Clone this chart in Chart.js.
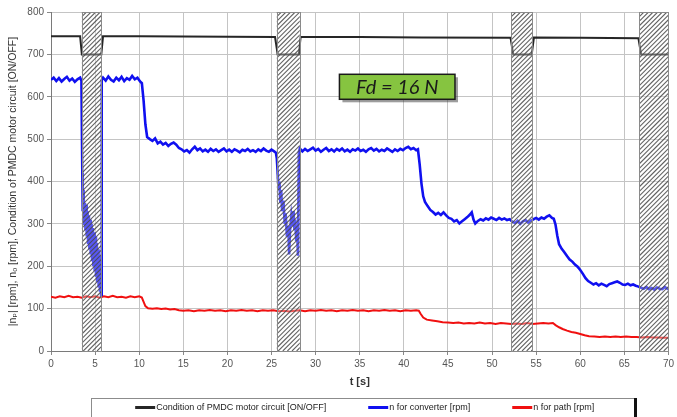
<!DOCTYPE html>
<html><head><meta charset="utf-8">
<script src="https://cdn.jsdelivr.net/npm/chart.js@4.4.1/dist/chart.umd.min.js"></script>
<style>html,body{margin:0;padding:0;background:#fff;}#wrap{width:677px;height:417px;position:relative;}</style>
</head><body><div id="wrap"><canvas id="c" width="677" height="417"></canvas></div>
<script>
// ---- data ----
const seriesLabels = ['Condition of PMDC motor circuit [ON/OFF]', 'n for converter [rpm]', 'n for path [rpm]'];
const condT = [0,3.3,3.5,5.7,5.9,10,15,25.4,25.7,28.1,28.3,35,42,52.1,52.4,54.5,54.75,60,66.6,66.9,70];
const condV = [743,743,700,700,743,743,742,741,700,700,741,741,740,739,700,700,740,739,738,700,700];
const convT = [0,0.3,0.6,0.9,1.2,1.5,1.8,2.1,2.4,2.7,3.0,3.3,3.45,3.55,3.6,3.7,3.75,3.85,3.9,4.0,4.05,4.15,4.2,4.3,4.35,4.45,4.5,4.6,4.65,4.75,4.8,4.9,4.95,5.05,5.1,5.2,5.25,5.35,5.4,5.5,5.55,5.62,5.68,5.75,5.9,6.2,6.5,6.8,7.1,7.4,7.7,8.0,8.3,8.6,8.9,9.2,9.5,9.8,10.1,10.3,10.5,10.7,10.9,11.2,11.5,11.8,12.1,12.4,12.7,13.0,13.3,13.6,13.9,14.2,14.5,14.8,15.1,15.4,15.7,16.0,16.3,16.6,16.9,17.2,17.5,17.8,18.1,18.4,18.7,19.0,19.3,19.6,19.9,20.2,20.5,20.8,21.1,21.4,21.7,22.0,22.3,22.6,22.9,23.2,23.5,23.8,24.1,24.4,24.7,25.0,25.3,25.5,25.6,25.7,25.8,25.9,26.0,26.1,26.2,26.35,26.5,26.6,26.75,26.9,27.0,27.1,27.25,27.4,27.5,27.6,27.7,27.8,27.9,28.0,28.1,28.2,28.5,28.8,29.1,29.4,29.7,30.0,30.3,30.6,30.9,31.2,31.5,31.8,32.1,32.4,32.7,33.0,33.3,33.6,33.9,34.2,34.5,34.8,35.1,35.4,35.7,36.0,36.3,36.6,36.9,37.2,37.5,37.8,38.1,38.4,38.7,39.0,39.3,39.6,39.9,40.2,40.5,40.8,41.1,41.4,41.6,41.8,42.0,42.2,42.4,42.7,43.0,43.3,43.6,43.9,44.2,44.5,44.8,45.1,45.4,45.7,46.0,46.3,46.6,46.9,47.2,47.5,47.7,47.9,48.1,48.4,48.7,49.0,49.3,49.6,49.9,50.2,50.5,50.8,51.1,51.4,51.7,52.0,52.3,52.6,52.9,53.2,53.5,53.8,54.1,54.4,54.7,55.0,55.3,55.6,55.9,56.2,56.5,56.8,57.0,57.2,57.4,57.6,57.9,58.2,58.5,58.8,59.1,59.4,59.7,60.0,60.3,60.6,60.9,61.2,61.5,61.8,62.1,62.4,62.7,63.0,63.3,63.6,63.9,64.2,64.5,64.8,65.1,65.4,65.7,66.0,66.3,66.6,66.9,67.2,67.5,67.8,68.1,68.4,68.7,69.0,69.3,69.6,69.8,70.0];
const convV = [640,645,637,644,636,642,647,638,643,635,641,645,638,420,330,380,300,350,285,345,270,330,255,320,240,310,228,300,215,290,200,280,188,270,175,255,162,240,150,225,140,200,132,640,645,638,648,640,636,645,639,647,637,644,640,649,641,645,636,632,590,535,505,500,496,502,490,494,487,491,484,489,492,487,479,476,471,474,468,476,482,474,478,471,475,470,477,472,476,470,474,478,471,475,470,476,473,469,475,472,477,471,474,470,476,472,478,473,470,475,471,468,455,420,380,400,350,380,330,355,300,325,270,295,228,285,320,295,330,285,310,260,285,225,470,478,471,477,472,476,480,473,477,470,475,479,472,476,471,477,473,478,471,475,470,476,473,478,472,475,470,476,479,473,477,471,475,472,478,474,470,476,472,477,474,479,482,476,479,474,476,440,395,365,352,342,333,328,322,326,321,327,320,314,312,306,309,301,306,311,316,322,327,310,301,307,311,308,313,310,315,312,309,314,310,313,309,311,305,302,307,300,306,309,303,308,311,314,310,315,312,317,320,314,312,298,272,252,241,233,224,216,211,204,199,191,182,172,165,161,157,160,155,159,156,153,158,160,162,164,161,157,156,159,155,157,154,152,149,147,151,146,149,145,150,147,146,151,148,145];
const pathT = [0,0.5,1,1.5,2,2.5,3,3.5,4,4.5,5,5.5,6,6.5,7,7.5,8,8.5,9,9.5,10,10.3,10.5,10.7,11.0,11.5,12,12.5,13,13.5,14,14.5,15,15.6,16.2,16.8,17.4,18,18.6,19.2,19.8,20.4,21,21.6,22.2,22.8,23.4,24,24.6,25.2,25.8,26.4,27,27.6,28.2,28.8,29.4,30,30.6,31.2,31.8,32.4,33,33.6,34.2,34.8,35.4,36,36.6,37.2,37.8,38.4,39,39.6,40.2,40.8,41.4,41.7,41.9,42.2,42.6,43.2,43.8,44.4,45,45.6,46.2,46.8,47.4,48,48.6,49.2,49.8,50.4,51,51.6,52.2,52.8,53.4,54,54.6,55.2,55.8,56.4,56.9,57.2,57.6,58,58.5,59,59.5,60,60.5,61,61.6,62.2,62.8,63.4,64,64.6,65.2,65.8,66.4,67,67.6,68.2,68.8,69.4,70];
const pathV = [128,126,129,127,130,127,128,126,129,127,129,126,129,127,130,127,128,126,129,127,129,126,116,106,101,100,101,99,100,98,99,96,95,96,94,96,95,97,95,96,94,96,95,97,95,96,94,96,95,96,94,95,93,95,96,94,96,95,97,95,96,94,96,95,97,95,96,94,96,95,97,95,96,94,96,95,96,95,88,79,74,72,70,68,67,66,67,65,66,65,67,65,66,64,66,65,64,65,64,66,64,65,66,65,66,61,56,52,48,45,43,40,37,35,34,33,34,33,34,33,34,33,33,32,33,32,32,31,31];
const offIntervals = [[3.5,5.7],[25.6,28.2],[52.2,54.6],[66.7,70]];
const xTickStep = 5, xMin = 0, xMax = 70;
const yTickStep = 100, yMin = 0, yMax = 800;
const noteText = 'Fd = 16 N';
const noteBox = {x0: 32.7, x1: 45.8, y0: 594, y1: 653};

// ---- build ----
const pts = (t, v) => t.map((x, i) => ({x, y: v[i]}));
const colors = ['#262626', '#1010f0', '#f01010'];
const widths = [2, 2.6, 2];
const datasets = [pts(condT, condV), pts(convT, convV), pts(pathT, pathV)].map((d, i) => ({
  label: seriesLabels[i], data: d, borderColor: colors[i], backgroundColor: colors[i],
  borderWidth: widths[i], pointRadius: 0, tension: 0, fill: false
}));

const FONT = "'Liberation Sans', Arial, 'DejaVu Sans', sans-serif";

const hatchPlugin = {
  id: 'hatch',
  afterDatasetsDraw(chart) {
    const {ctx, chartArea: a, scales: {x, y}} = chart;
    offIntervals.forEach(([t0, t1]) => {
      const L = x.getPixelForValue(t0), R = x.getPixelForValue(t1);
      const T = a.top, B = a.bottom;
      ctx.save();
      ctx.beginPath(); ctx.rect(L, T, R - L, B - T); ctx.clip();
      ctx.fillStyle = 'rgba(255,255,255,0.3)';
      ctx.fillRect(L, T, R - L, B - T);
      ctx.strokeStyle = 'rgba(70,70,70,0.85)';
      ctx.lineWidth = 1.1;
      ctx.beginPath();
      for (let s = L - (B - T); s < R + 5; s += 4.6) {
        ctx.moveTo(s, B); ctx.lineTo(s + (B - T), T);
      }
      ctx.stroke();
      ctx.restore();
      ctx.save();
      ctx.strokeStyle = '#8a8a8a'; ctx.lineWidth = 1;
      ctx.strokeRect(Math.round(L) + 0.5, T + 0.5, Math.round(R - L), B - T);
      ctx.restore();
    });
  }
};

const notePlugin = {
  id: 'note',
  afterDraw(chart) {
    const {ctx, scales: {x, y}} = chart;
    const L = x.getPixelForValue(noteBox.x0), R = x.getPixelForValue(noteBox.x1);
    const T = y.getPixelForValue(noteBox.y1), B = y.getPixelForValue(noteBox.y0);
    ctx.save();
    ctx.fillStyle = 'rgba(60,60,60,0.5)';
    ctx.fillRect(L + 3, T + 3, R - L, B - T);
    ctx.fillStyle = '#86c440';
    ctx.fillRect(L, T, R - L, B - T);
    ctx.strokeStyle = '#1a1a1a'; ctx.lineWidth = 1.5;
    ctx.strokeRect(L, T, R - L, B - T);
    ctx.fillStyle = '#1a1a1a';
    ctx.font = "italic 20px Lato, 'Open Sans', sans-serif";
    ctx.textAlign = 'center'; ctx.textBaseline = 'middle';
    ctx.fillText(noteText, (L + R) / 2, (T + B) / 2 + 1);
    ctx.restore();
  }
};

const legendPlugin = {
  id: 'boxLegend',
  afterDraw(chart) {
    const {ctx, chartArea: a} = chart;
    ctx.save();
    ctx.font = '9px ' + FONT;
    const lineLen = 20, gap = 42, tgap = 1;
    const ws = chart.data.datasets.map(d => lineLen + tgap + ctx.measureText(d.label).width);
    const total = ws.reduce((s, w) => s + w, 0) + gap * (ws.length - 1);
    let cx = (a.left + a.right) / 2 + 5 - total / 2;
    const cy = 407.5;
    const bx0 = cx - 44, bx1 = cx + total + 41;
    ctx.fillStyle = '#fff';
    ctx.fillRect(bx0, 398, bx1 - bx0, 22);
    ctx.strokeStyle = '#8c8c8c'; ctx.lineWidth = 1;
    ctx.strokeRect(Math.round(bx0) + 0.5, 398.5, Math.round(bx1 - bx0), 22);
    ctx.fillStyle = '#111';
    ctx.fillRect(Math.round(bx1) - 1, 398, 3, 20);
    chart.data.datasets.forEach((d, i) => {
      ctx.strokeStyle = d.borderColor; ctx.lineWidth = 3;
      ctx.beginPath(); ctx.moveTo(cx, cy); ctx.lineTo(cx + lineLen, cy); ctx.stroke();
      ctx.fillStyle = '#222'; ctx.textAlign = 'left'; ctx.textBaseline = 'middle';
      ctx.fillText(d.label, cx + lineLen + tgap, cy);
      cx += ws[i] + gap;
    });
    ctx.restore();
  }
};

new Chart(document.getElementById('c'), {
  type: 'line',
  data: {datasets},
  options: {
    responsive: false, animation: false, devicePixelRatio: 1,
    layout: {padding: {top: 12, right: 4, bottom: 18, left: 0}},
    plugins: {legend: {display: false}, tooltip: {enabled: false}},
    scales: {
      x: {
        type: 'linear', min: xMin, max: xMax,
        ticks: {stepSize: xTickStep, color: '#555', font: {size: 10, family: FONT}, padding: 3, maxRotation: 0},
        grid: {color: '#c4c4c4', tickLength: 4, tickColor: '#888'},
        border: {color: '#7a7a7a', width: 1},
        title: {display: true, text: 't [s]', color: '#333', font: {size: 11, weight: 'bold', family: FONT}, padding: {top: 2, bottom: 10}},
        afterFit: s => { s.height = 48; }
      },
      y: {
        min: yMin, max: yMax,
        ticks: {stepSize: yTickStep, color: '#555', font: {size: 10, family: FONT}, padding: 3},
        grid: {color: '#c4c4c4', tickLength: 4, tickColor: '#888'},
        border: {color: '#7a7a7a', width: 1},
        title: {display: true, text: '|nₚ| [rpm], nₒ [rpm], Condition of PMDC motor circuit [ON/OFF]', color: '#333', font: {size: 10.5, family: FONT}, padding: {top: 7, bottom: 0}},
        afterFit: s => { s.width = 51; }
      }
    }
  },
  plugins: [hatchPlugin, notePlugin, legendPlugin]
});
</script></body></html>
